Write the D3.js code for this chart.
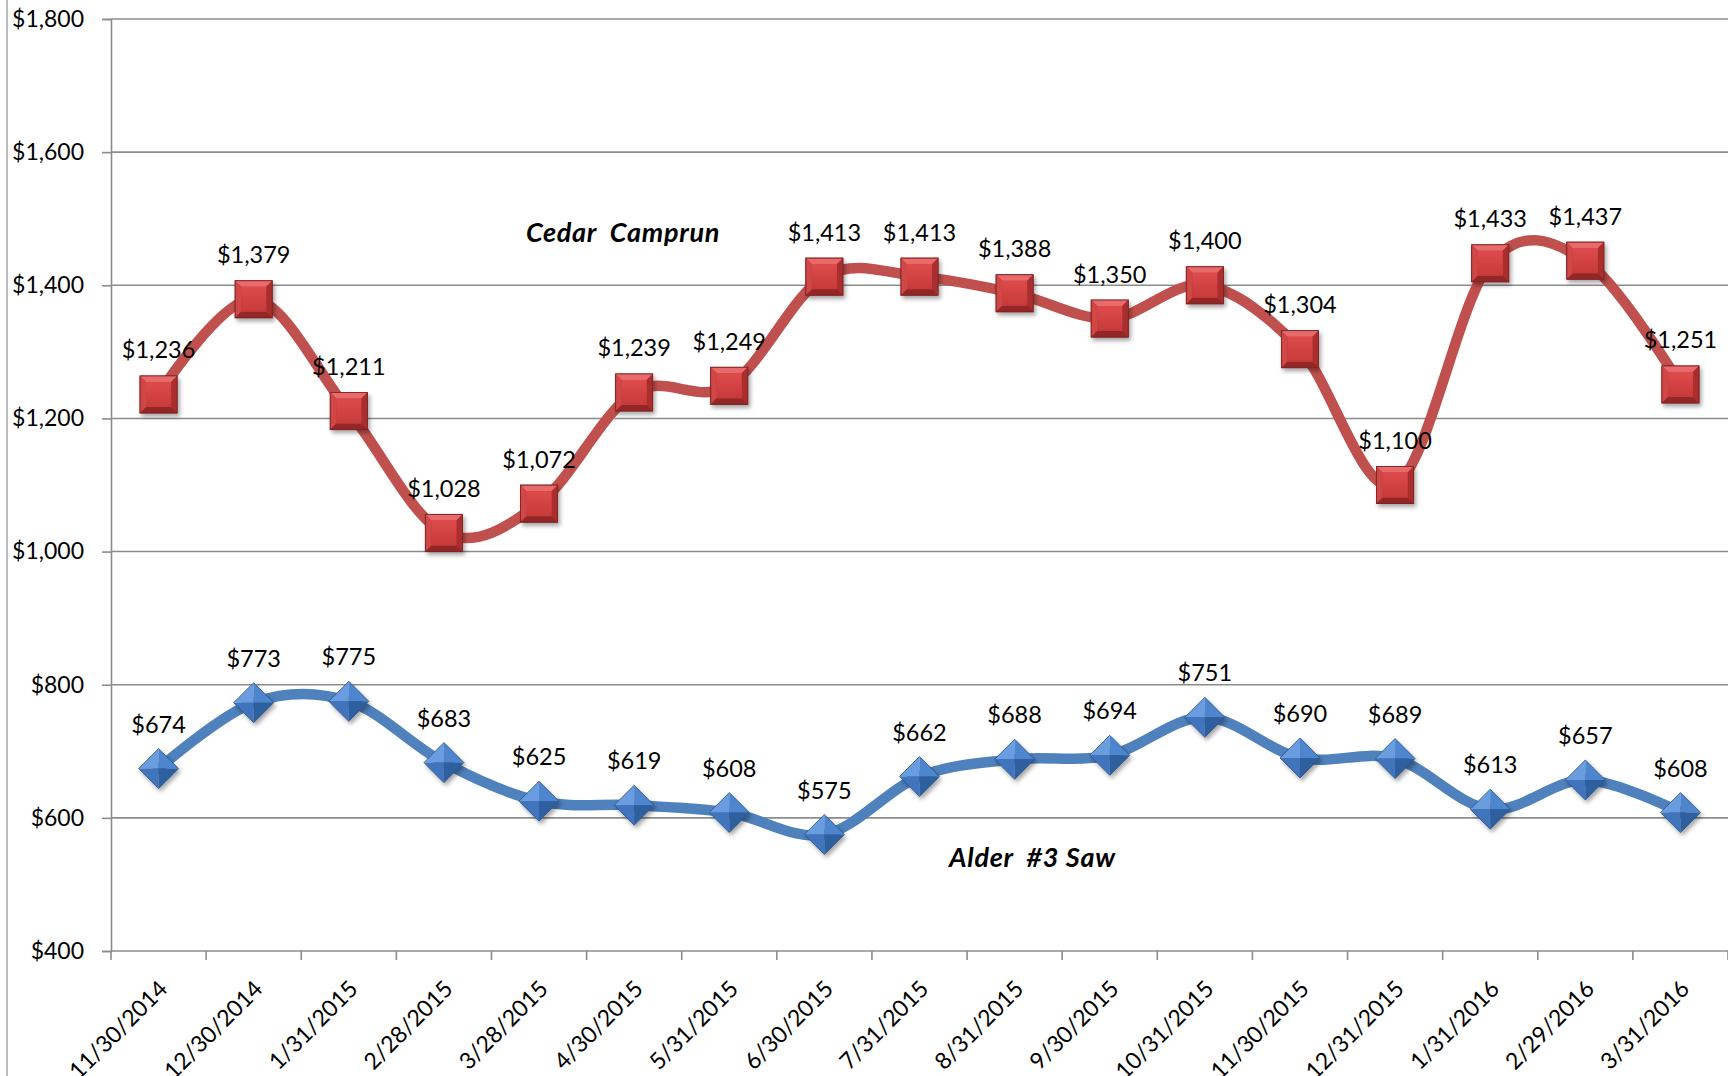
<!DOCTYPE html>
<html>
<head>
<meta charset="utf-8">
<script src="https://cdn.jsdelivr.net/npm/d3@7"></script>
<style>
  html, body { margin: 0; padding: 0; background: #fff; }
  svg { display: block; }
  text { font-family: Lato, "Open Sans", sans-serif; }
</style>
</head>
<body>
<svg id="chart" width="1728" height="1076"></svg>
<script>
const dates = ["11/30/2014","12/30/2014","1/31/2015","2/28/2015","3/28/2015","4/30/2015","5/31/2015","6/30/2015","7/31/2015","8/31/2015","9/30/2015","10/31/2015","11/30/2015","12/31/2015","1/31/2016","2/29/2016","3/31/2016"];
const cedarCamprun = [1236,1379,1211,1028,1072,1239,1249,1413,1413,1388,1350,1400,1304,1100,1433,1437,1251];
const alder3Saw = [674,773,775,683,625,619,608,575,662,688,694,751,690,689,613,657,608];
const yTicks = [400,600,800,1000,1200,1400,1600,1800];
const seriesNames = ["Cedar\u00a0\u00a0Camprun", "Alder\u00a0\u00a0#3 Saw"];

(function () {
const W = 1728, H = 1076;
const plotL = 111, plotR = 1728, plotT = 19, plotB = 951;
const svg = d3.select("#chart");

const x = d3.scaleBand().domain(dates).range([plotL, plotR]).paddingInner(0).paddingOuter(0);
const cx = d => x(d) + x.bandwidth() / 2;
const y = d3.scaleLinear().domain([400, 1800]).range([plotB, plotT]);
const fmt = v => "$" + d3.format(",")(v);

const defs = svg.append("defs");
const f = defs.append("filter").attr("id","shadow").attr("x","-50%").attr("y","-50%").attr("width","200%").attr("height","200%");
f.append("feDropShadow").attr("dx",2).attr("dy",3).attr("stdDeviation",2.2).attr("flood-color","#000").attr("flood-opacity",0.35);
const rg = defs.append("linearGradient").attr("id","redFace").attr("x1",0).attr("y1",0).attr("x2",0).attr("y2",1);
rg.append("stop").attr("offset","0%").attr("stop-color","#DE4B4B");
rg.append("stop").attr("offset","100%").attr("stop-color","#C73A3A");

// left border line
svg.append("line").attr("x1",7).attr("x2",7).attr("y1",0).attr("y2",H)
  .attr("stroke","#a6a6a6").attr("stroke-width",1.5);

// gridlines
svg.append("g").selectAll("line").data(yTicks.filter(t => t !== 400)).join("line")
  .attr("x1", plotL).attr("x2", plotR).attr("y1", d => y(d)).attr("y2", d => y(d))
  .attr("stroke","#8c8c8c").attr("stroke-width",1.6);

// y axis
const yAxis = svg.append("g").attr("transform",`translate(${plotL},0)`)
  .call(d3.axisLeft(y).tickValues(yTicks).tickFormat(fmt).tickSize(9).tickPadding(18));
yAxis.select(".domain").attr("stroke","#8c8c8c").attr("stroke-width",1.6);
yAxis.selectAll(".tick line").attr("stroke","#8c8c8c").attr("stroke-width",1.6);
yAxis.selectAll(".tick text").attr("font-size",23).attr("fill","#000").attr("font-family","Lato, sans-serif");

// x axis
const xTickScale = d3.scaleLinear().domain([0, dates.length]).range([plotL, plotR]);
const xg = svg.append("g");
xg.append("line").attr("x1",plotL).attr("x2",plotR).attr("y1",plotB).attr("y2",plotB)
  .attr("stroke","#8c8c8c").attr("stroke-width",1.6);
xg.selectAll("line.tk").data(d3.range(dates.length + 1)).join("line").attr("class","tk")
  .attr("x1", d => xTickScale(d)).attr("x2", d => xTickScale(d))
  .attr("y1", plotB).attr("y2", plotB + 9)
  .attr("stroke","#8c8c8c").attr("stroke-width",1.6);
xg.selectAll("text").data(dates).join("text")
  .attr("transform", d => `translate(${cx(d) + 4},${plotB + 33}) rotate(-45)`)
  .attr("text-anchor","end").attr("dominant-baseline","central")
  .attr("font-size",23).attr("fill","#000").text(d => d);

const line = d3.line().x((d,i) => cx(dates[i])).y(d => y(d)).curve(d3.curveCardinal.tension(0));

function drawSeries(values, color) {
  svg.append("path").datum(values).attr("d", line)
    .attr("fill","none").attr("stroke",color).attr("stroke-width",10.5)
    .attr("stroke-linecap","round").attr("stroke-linejoin","round");
}
drawSeries(cedarCamprun, "#C0504D");
drawSeries(alder3Saw, "#4F81BD");

// square markers (red)
const s = 18.5, b = 6;
const sq = svg.append("g").selectAll("g").data(cedarCamprun).join("g")
  .attr("transform", (d,i) => `translate(${cx(dates[i])},${y(d)})`)
  .attr("filter","url(#shadow)");
sq.append("rect").attr("x",-s).attr("y",-s).attr("width",2*s).attr("height",2*s)
  .attr("fill","#B83434").attr("stroke","#8a2626").attr("stroke-width",1);
sq.append("polygon").attr("points",`${-s},${-s} ${s},${-s} ${s-b},${-s+b} ${-s+b},${-s+b}`).attr("fill","#E86A6A");
sq.append("polygon").attr("points",`${-s},${-s} ${-s+b},${-s+b} ${-s+b},${s-b} ${-s},${s}`).attr("fill","#CF4646");
sq.append("polygon").attr("points",`${s},${-s} ${s},${s} ${s-b},${s-b} ${s-b},${-s+b}`).attr("fill","#AA2F2F");
sq.append("polygon").attr("points",`${-s},${s} ${-s+b},${s-b} ${s-b},${s-b} ${s},${s}`).attr("fill","#932727");
sq.append("rect").attr("x",-s+b).attr("y",-s+b).attr("width",2*(s-b)).attr("height",2*(s-b)).attr("fill","url(#redFace)");
sq.append("rect").attr("x",-s).attr("y",-s).attr("width",2*s).attr("height",2*s)
  .attr("fill","none").attr("stroke","#7d2222").attr("stroke-width",0.8);

// diamond markers (blue)
const r = 20;
const dm = svg.append("g").selectAll("g").data(alder3Saw).join("g")
  .attr("transform", (d,i) => `translate(${cx(dates[i])},${y(d)})`)
  .attr("filter","url(#shadow)");
dm.append("polygon").attr("points",`0,${-r} 0,0 ${-r},0`).attr("fill","#6A9DE0");
dm.append("polygon").attr("points",`0,${-r} ${r},0 0,0`).attr("fill","#4E86CF");
dm.append("polygon").attr("points",`${-r},0 0,0 0,${r}`).attr("fill","#3F74BD");
dm.append("polygon").attr("points",`0,0 ${r},0 0,${r}`).attr("fill","#2E5E9E");
dm.append("polygon").attr("points",`0,${-r} ${r},0 0,${r} ${-r},0`)
  .attr("fill","none").attr("stroke","#2a5287").attr("stroke-width",0.8);

// data labels
function drawLabels(values) {
  svg.append("g").selectAll("text").data(values).join("text")
    .attr("x", (d,i) => cx(dates[i])).attr("y", d => y(d) - 45)
    .attr("text-anchor","middle").attr("dominant-baseline","central")
    .attr("font-size",23.5).attr("fill","#000").text(fmt);
}
drawLabels(cedarCamprun);
drawLabels(alder3Saw);

// series name labels
svg.append("text").attr("x",526).attr("y",242).attr("font-size",27).attr("font-weight","bold")
  .attr("font-style","italic").attr("letter-spacing",0.7).attr("fill","#000").text(seriesNames[0]);
svg.append("text").attr("x",949).attr("y",867).attr("font-size",27).attr("font-weight","bold")
  .attr("font-style","italic").attr("letter-spacing",0.7).attr("fill","#000").text(seriesNames[1]);
})();
</script>
</body>
</html>
